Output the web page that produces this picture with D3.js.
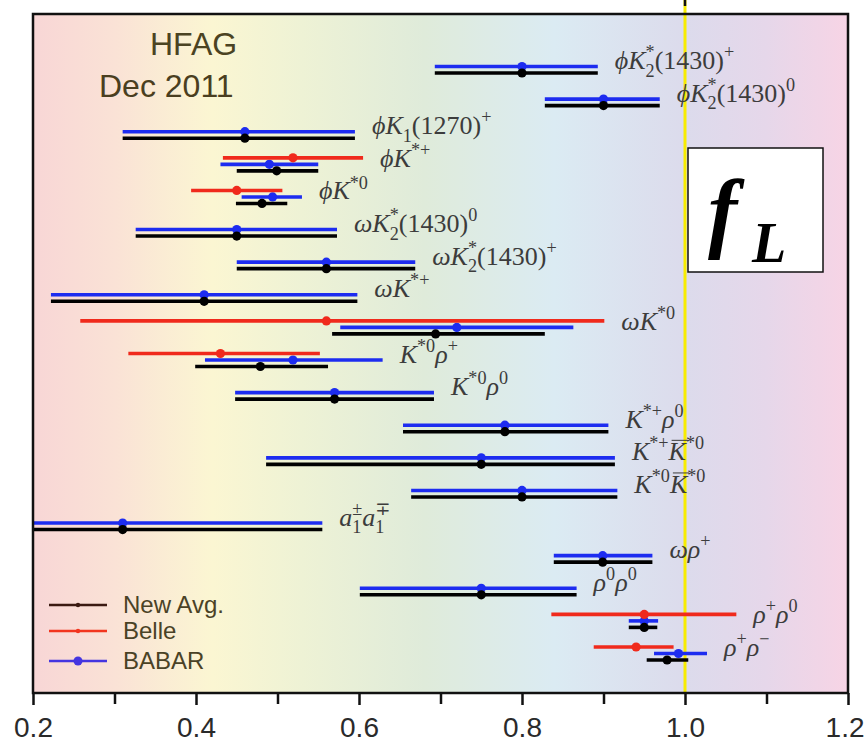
<!DOCTYPE html>
<html>
<head>
<meta charset="utf-8">
<script src="https://cdn.jsdelivr.net/npm/d3@7"></script>
<style>
  body { margin: 0; background: #fff; }
  svg { display: block; }
</style>
</head>
<body>
<svg id="chart" width="866" height="750"></svg>
<script>
// Longitudinal polarization fractions f_L for charmless B -> VV decays
const channels = [
  "ϕK_2^*(1430)^+", "ϕK_2^*(1430)^0", "ϕK_1(1270)^+", "ϕK^{*+}", "ϕK^{*0}",
  "ωK_2^*(1430)^0", "ωK_2^*(1430)^+", "ωK^{*+}", "ωK^{*0}",
  "K^{*0}ρ^+", "K^{*0}ρ^0", "K^{*+}ρ^0", "K^{*+}~K^{*0}", "K^{*0}~K^{*0}",
  "a_1^±a_1^∓", "ωρ^+", "ρ^0ρ^0", "ρ^+ρ^0", "ρ^+ρ^−"
];

// New average: central value and interval ends
const avgVal = [0.800, 0.900, 0.460, 0.499, 0.481, 0.450, 0.560, 0.410, 0.694, 0.479, 0.570, 0.779, 0.750, 0.800, 0.310, 0.899, 0.750, 0.950, 0.978];
const avgLo  = [0.693, 0.828, 0.310, 0.450, 0.449, 0.326, 0.450, 0.222, 0.567, 0.399, 0.448, 0.654, 0.486, 0.664, 0.200, 0.839, 0.601, 0.931, 0.953];
const avgHi  = [0.893, 0.969, 0.595, 0.550, 0.512, 0.573, 0.669, 0.598, 0.828, 0.562, 0.692, 0.906, 0.914, 0.917, 0.555, 0.960, 0.867, 0.966, 1.004];

// BABAR measurements
const babarVal = [0.800, 0.900, 0.460, 0.490, 0.494, 0.450, 0.560, 0.410, 0.720, 0.519, 0.570, 0.779, 0.750, 0.800, 0.310, 0.899, 0.750, 0.950, 0.992];
const babarLo  = [0.693, 0.828, 0.310, 0.430, 0.456, 0.326, 0.450, 0.222, 0.577, 0.411, 0.448, 0.654, 0.486, 0.664, 0.200, 0.839, 0.601, 0.931, 0.962];
const babarHi  = [0.893, 0.969, 0.595, 0.550, 0.530, 0.573, 0.669, 0.598, 0.863, 0.629, 0.692, 0.906, 0.914, 0.917, 0.555, 0.960, 0.867, 0.967, 1.027];

// Belle measurements (null where Belle has none)
const belleVal = [null, null, null, 0.519, 0.450, null, null, null, 0.560, 0.430, null, null, null, null, null, null, null, 0.950, 0.940];
const belleLo  = [null, null, null, 0.433, 0.394, null, null, null, 0.258, 0.317, null, null, null, null, null, null, null, 0.836, 0.888];
const belleHi  = [null, null, null, 0.605, 0.506, null, null, null, 0.901, 0.552, null, null, null, null, null, null, null, 1.063, 0.986];

const xTicks = [0.2, 0.4, 0.6, 0.8, 1.0, 1.2];
const xMinorTicks = [0.3, 0.5, 0.7, 0.9, 1.1];
const legendNames = ["New Avg.", "Belle", "BABAR"];

// ---- layout ----
const svg = d3.select("#chart");
const plotL = 33, plotR = 848, plotT = 14, plotB = 693;

const x = d3.scaleLinear().domain([0.2, 1.2]).range([plotL, plotR]);
const y = d3.scalePoint().domain(d3.range(channels.length)).range([73, 660]);

const series = [
  { name: "BABAR",    val: babarVal, lo: babarLo, hi: babarHi, color: "#1d2cf0", off: -6.5 },
  { name: "Belle",    val: belleVal, lo: belleLo, hi: belleHi, color: "#f02a1c", off: -13 },
  { name: "New Avg.", val: avgVal,   lo: avgLo,   hi: avgHi,   color: "#000000", off: 0 }
];

// background gradient
const defs = svg.append("defs");
const grad = defs.append("linearGradient").attr("id", "bg").attr("x1", 0).attr("x2", 1).attr("y1", 0).attr("y2", 0);
[[0, "#f8d6d6"], [0.1, "#fae2d6"], [0.22, "#fbf6d2"], [0.33, "#eef2d5"], [0.48, "#dfebda"],
 [0.64, "#dbebf3"], [0.8, "#dcdbec"], [0.9, "#e6d7ea"], [1, "#f7d4e5"]]
  .forEach(([o, c]) => grad.append("stop").attr("offset", o).attr("stop-color", c));

defs.append("clipPath").attr("id", "plotclip")
  .append("rect").attr("x", plotL).attr("y", plotT).attr("width", plotR - plotL).attr("height", plotB - plotT);

svg.append("rect").attr("x", plotL).attr("y", plotT).attr("width", plotR - plotL).attr("height", plotB - plotT)
  .attr("fill", "url(#bg)");

// f_L = 1 reference line
svg.append("line").attr("x1", x(1.0)).attr("x2", x(1.0)).attr("y1", 0).attr("y2", plotB)
  .attr("stroke", "#f7ec00").attr("stroke-width", 3);
svg.append("line").attr("x1", x(1.0)).attr("x2", x(1.0)).attr("y1", 0).attr("y2", 6)
  .attr("stroke", "#111").attr("stroke-width", 2.5);

// header text
svg.append("text").attr("x", 150).attr("y", 55).text("HFAG")
  .attr("font-family", "Liberation Sans, Arial, sans-serif").attr("font-size", 32).attr("fill", "#4b4322");
svg.append("text").attr("x", 99).attr("y", 97).text("Dec 2011")
  .attr("font-family", "Liberation Sans, Arial, sans-serif").attr("font-size", 32).attr("fill", "#4a3e20");

// measurement bars
const marks = svg.append("g").attr("clip-path", "url(#plotclip)");
series.forEach(s => {
  const idx = d3.range(channels.length).filter(i => s.val[i] !== null);
  const g = marks.append("g");
  g.selectAll("line").data(idx).join("line")
    .attr("x1", i => x(s.lo[i])).attr("x2", i => x(s.hi[i]))
    .attr("y1", i => y(i) + s.off).attr("y2", i => y(i) + s.off)
    .attr("stroke", s.color).attr("stroke-width", 3.6);
  g.selectAll("circle").data(idx).join("circle")
    .attr("cx", i => x(s.val[i])).attr("cy", i => y(i) + s.off).attr("r", 4.6)
    .attr("fill", s.color);
});

// channel labels with sub/superscripts
const F = 26, S = 0.7 * F, SUP = -0.42 * F, SUB = 0.3 * F;
function parseLabel(str) {
  const toks = [];
  let i = 0, over = false;
  while (i < str.length) {
    const c = str[i];
    if (c === "~") { over = true; i++; continue; }
    if (c === "_" || c === "^") {
      i++;
      let t;
      if (str[i] === "{") { const j = str.indexOf("}", i); t = str.slice(i + 1, j); i = j + 1; }
      else { t = str[i]; i++; }
      const kind = c === "_" ? "sub" : "sup";
      const prev = toks[toks.length - 1];
      const stack = !!prev && prev.kind !== "base" && prev.kind !== kind;
      toks.push({ kind, text: t, stack });
      continue;
    }
    toks.push({ kind: "base", text: c, over });
    over = false;
    i++;
  }
  return toks;
}

const labelLayer = svg.append("g")
  .attr("font-family", "Liberation Serif, 'DejaVu Serif', serif")
  .attr("fill", "#3c3c3c");

function drawLabel(px, py, str) {
  const t = labelLayer.append("text").attr("x", px).attr("y", py).attr("font-size", F);
  let cur = 0, prevNode = null, charIdx = 0, pending = 0;
  const overs = [];
  parseLabel(str).forEach(tok => {
    const off = tok.kind === "sup" ? SUP : tok.kind === "sub" ? SUB : 0;
    const ts = t.append("tspan").attr("dy", off - cur).text(tok.text);
    cur = off;
    if (tok.kind !== "base") ts.attr("font-size", S);
    const italic = tok.kind === "base" && /[A-Za-zα-ωϕ]/.test(tok.text);
    ts.attr("font-style", italic ? "italic" : "normal");
    if (tok.stack && prevNode) {
      const pw = prevNode.getComputedTextLength();
      ts.attr("dx", -pw);
      const w = ts.node().getComputedTextLength();
      pending = Math.max(0, pw - w);
    } else if (pending) {
      ts.attr("dx", pending);
      pending = 0;
    }
    if (tok.over) overs.push(charIdx);
    charIdx += tok.text.length;
    prevNode = ts.node();
  });
  overs.forEach(ci => {
    const e = t.node().getExtentOfChar(ci);
    labelLayer.append("line")
      .attr("x1", e.x + 3).attr("x2", e.x + e.width + 2)
      .attr("y1", e.y + 3).attr("y2", e.y + 3)
      .attr("stroke", "#3c3c3c").attr("stroke-width", 1);
  });
}

channels.forEach((name, i) => {
  const maxHi = d3.max(series, s => s.hi[i] === null ? -Infinity : s.hi[i]);
  drawLabel(x(maxHi) + 17, y(i) - 4, name);
});

// f_L tag
svg.append("rect").attr("x", 688).attr("y", 148).attr("width", 135).attr("height", 124)
  .attr("fill", "#fff").attr("stroke", "#111").attr("stroke-width", 1.5);
svg.append("text").attr("x", 708).attr("y", 241).text("f")
  .attr("font-family", "Liberation Serif, 'DejaVu Serif', serif").attr("font-weight", "bold")
  .attr("font-style", "italic").attr("font-size", 88).attr("fill", "#000");
svg.append("text").attr("x", 752).attr("y", 262).text("L")
  .attr("font-family", "Liberation Serif, 'DejaVu Serif', serif").attr("font-weight", "bold")
  .attr("font-style", "italic").attr("font-size", 56).attr("fill", "#000");

// legend
const legendColors = ["#3b1a12", "#f2351f", "#4535e0"];
const legendY = [605, 631, 661];
const legend = svg.append("g");
legendNames.forEach((n, i) => {
  legend.append("line").attr("x1", 49).attr("x2", 107).attr("y1", legendY[i]).attr("y2", legendY[i])
    .attr("stroke", legendColors[i]).attr("stroke-width", 2.6);
  legend.append("circle").attr("cx", 78).attr("cy", legendY[i]).attr("r", i === 2 ? 4.5 : 2.2)
    .attr("fill", legendColors[i]);
  legend.append("text").attr("x", 123).attr("y", legendY[i] + 8).text(n)
    .attr("font-family", "Liberation Sans, Arial, sans-serif").attr("font-size", 24).attr("fill", "#4a4226");
});

// frame
svg.append("rect").attr("x", plotL).attr("y", plotT).attr("width", plotR - plotL).attr("height", plotB - plotT)
  .attr("fill", "none").attr("stroke", "#111").attr("stroke-width", 2.5);

// x axis
const axisG = svg.append("g").attr("transform", `translate(0,${plotB})`)
  .call(d3.axisBottom(x).tickValues(xTicks).tickFormat(d3.format(".1f")).tickSize(12).tickPadding(12));
axisG.select(".domain").remove();
axisG.selectAll(".tick line").attr("stroke", "#111").attr("stroke-width", 2.5);
axisG.selectAll(".tick text").attr("font-family", "Liberation Sans, Arial, sans-serif")
  .attr("font-size", 28).attr("fill", "#2a2a2a");
// keep the last tick label inside the page edge
axisG.selectAll(".tick text").filter(d => d === 1.2)
  .attr("text-anchor", "end").attr("x", 864 - x(1.2));

const minorG = svg.append("g").attr("transform", `translate(0,${plotB})`)
  .call(d3.axisBottom(x).tickValues(xMinorTicks).tickFormat("").tickSize(11));
minorG.select(".domain").remove();
minorG.selectAll(".tick line").attr("stroke", "#111").attr("stroke-width", 2.5);
</script>
</body>
</html>
